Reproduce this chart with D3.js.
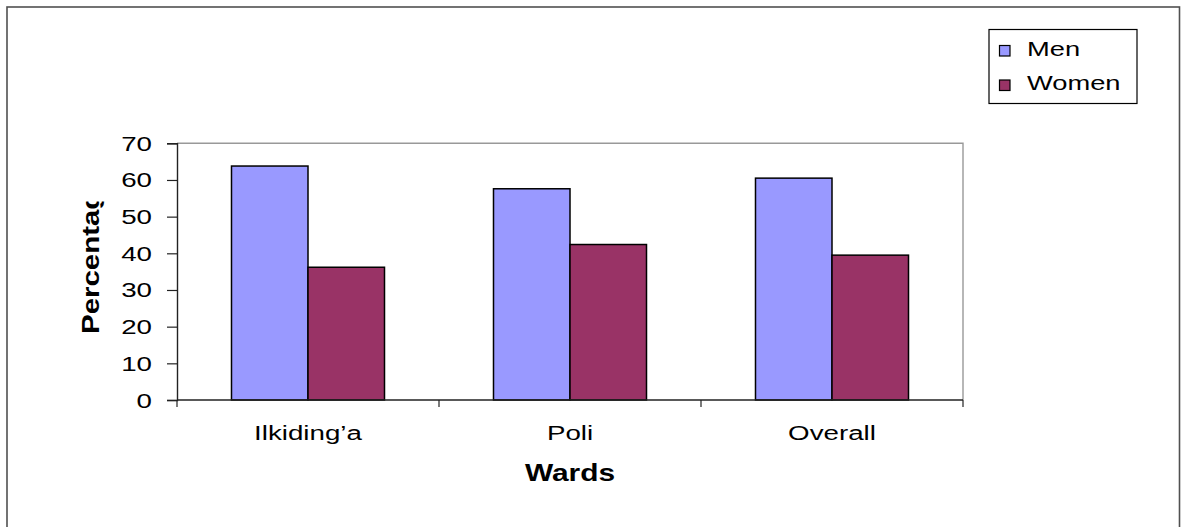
<!DOCTYPE html>
<html>
<head>
<meta charset="utf-8">
<script src="https://cdn.jsdelivr.net/npm/d3@7/dist/d3.min.js"></script>
<style>
  html, body { margin: 0; padding: 0; background: #fff; }
  svg { display: block; }
  text { font-family: "Liberation Sans", Arial, sans-serif; fill: #000; }
</style>
</head>
<body>
<svg id="chart" width="1181" height="527"></svg>
<script>
// Share of respondents by sex in each ward
const categories = ["Ilkiding’a", "Poli", "Overall"];
const seriesNames = ["Men", "Women"];
const men = [63.8, 57.6, 60.5];
const women = [36.2, 42.4, 39.5];
const yTicks = [0, 10, 20, 30, 40, 50, 60, 70];
const colors = ["#9999FF", "#993366"];

const W = 1181, H = 527;
const svg = d3.select("#chart");

// text helper: places a horizontally widened label
function label(parent, x, y, str, opts = {}) {
  const sx = opts.sx || 1.32;
  const g = parent.append("g")
    .attr("transform", `translate(${x},${y})` + (opts.rotate ? ` rotate(${opts.rotate})` : "") + ` scale(${sx},1)`);
  return g.append("text")
    .attr("text-anchor", opts.anchor || "start")
    .attr("font-size", opts.size || 21)
    .attr("font-weight", opts.bold ? "bold" : "normal")
    .text(str);
}

// outer chart frame
svg.append("rect")
  .attr("x", 7).attr("y", 7).attr("width", W - 8.5).attr("height", H)
  .attr("fill", "#fff").attr("stroke", "#505050").attr("stroke-width", 1.6);

const plot = { left: 177, right: 963, top: 143.3, bottom: 400 };

const x0 = d3.scaleBand().domain(categories)
  .range([plot.left, plot.right]).paddingInner(0.416).paddingOuter(0.208);
const x1 = d3.scaleBand().domain(seriesNames).range([0, x0.bandwidth()]);
const y = d3.scaleLinear().domain([0, 70]).range([plot.bottom, plot.top]);

// plot area top/right border
svg.append("path")
  .attr("d", `M${plot.left},${plot.top}H${plot.right}V${plot.bottom}`)
  .attr("fill", "none").attr("stroke", "#999").attr("stroke-width", 1.4);

// bars
const rows = categories.map((c, i) => ({ cat: c, vals: [men[i], women[i]] }));
const groups = svg.append("g").selectAll("g").data(rows).join("g")
  .attr("transform", d => `translate(${x0(d.cat)},0)`);
groups.selectAll("rect")
  .data(d => d.vals.map((v, j) => ({ name: seriesNames[j], v, j })))
  .join("rect")
  .attr("x", d => x1(d.name))
  .attr("width", x1.bandwidth())
  .attr("y", d => y(d.v))
  .attr("height", d => y(0) - y(d.v))
  .attr("fill", d => colors[d.j])
  .attr("stroke", "#000").attr("stroke-width", 1.5);

// y axis
const yAxis = svg.append("g").attr("transform", `translate(${plot.left},0)`)
  .call(d3.axisLeft(y).tickValues(yTicks).tickSize(10).tickFormat(""));
yAxis.select(".domain").attr("stroke", "#222").attr("stroke-width", 1.4);
yAxis.selectAll(".tick line").attr("stroke", "#222").attr("stroke-width", 1.2);
yTicks.forEach(t => {
  label(svg, 152, y(t) + 7.5, String(t), { anchor: "end" });
});

// x axis
const xEdges = [plot.left].concat(categories.map(c => x0(c) - x0.step() * x0.paddingInner() / 2 + x0.step()));
const xAxis = svg.append("g");
xAxis.append("line")
  .attr("x1", plot.left).attr("x2", plot.right)
  .attr("y1", plot.bottom).attr("y2", plot.bottom)
  .attr("stroke", "#222").attr("stroke-width", 1.4);
xAxis.selectAll("line.tk").data(xEdges).join("line").attr("class", "tk")
  .attr("x1", d => d).attr("x2", d => d)
  .attr("y1", plot.bottom).attr("y2", plot.bottom + 7)
  .attr("stroke", "#222").attr("stroke-width", 1.2);
categories.forEach(c => {
  label(svg, x0(c) + x0.bandwidth() / 2, 440, c, { anchor: "middle" });
});

// axis titles
label(svg, (plot.left + plot.right) / 2, 481, "Wards", { anchor: "middle", size: 23, bold: true, sx: 1.3 });

svg.append("clipPath").attr("id", "ytitle-clip")
  .append("rect").attr("x", 0).attr("y", 201.5).attr("width", 170).attr("height", 300);
const yTitle = svg.append("g").attr("clip-path", "url(#ytitle-clip)");
label(yTitle, 98.5, 334, "Percentage", { anchor: "start", size: 23, bold: true, rotate: -90, sx: 1.28 });

// legend
const lg = svg.append("g");
lg.append("rect").attr("x", 989).attr("y", 29.5).attr("width", 148).attr("height", 74)
  .attr("fill", "#fff").attr("stroke", "#000").attr("stroke-width", 1.2);
seriesNames.forEach((n, i) => {
  const yy = 45.5 + i * 34.5;
  lg.append("rect").attr("x", 999.5).attr("y", yy).attr("width", 10.5).attr("height", 10.5)
    .attr("fill", colors[i]).attr("stroke", "#000").attr("stroke-width", 1.2);
  label(lg, 1027, yy + 10, n, { sx: 1.3 });
});
</script>
</body>
</html>
